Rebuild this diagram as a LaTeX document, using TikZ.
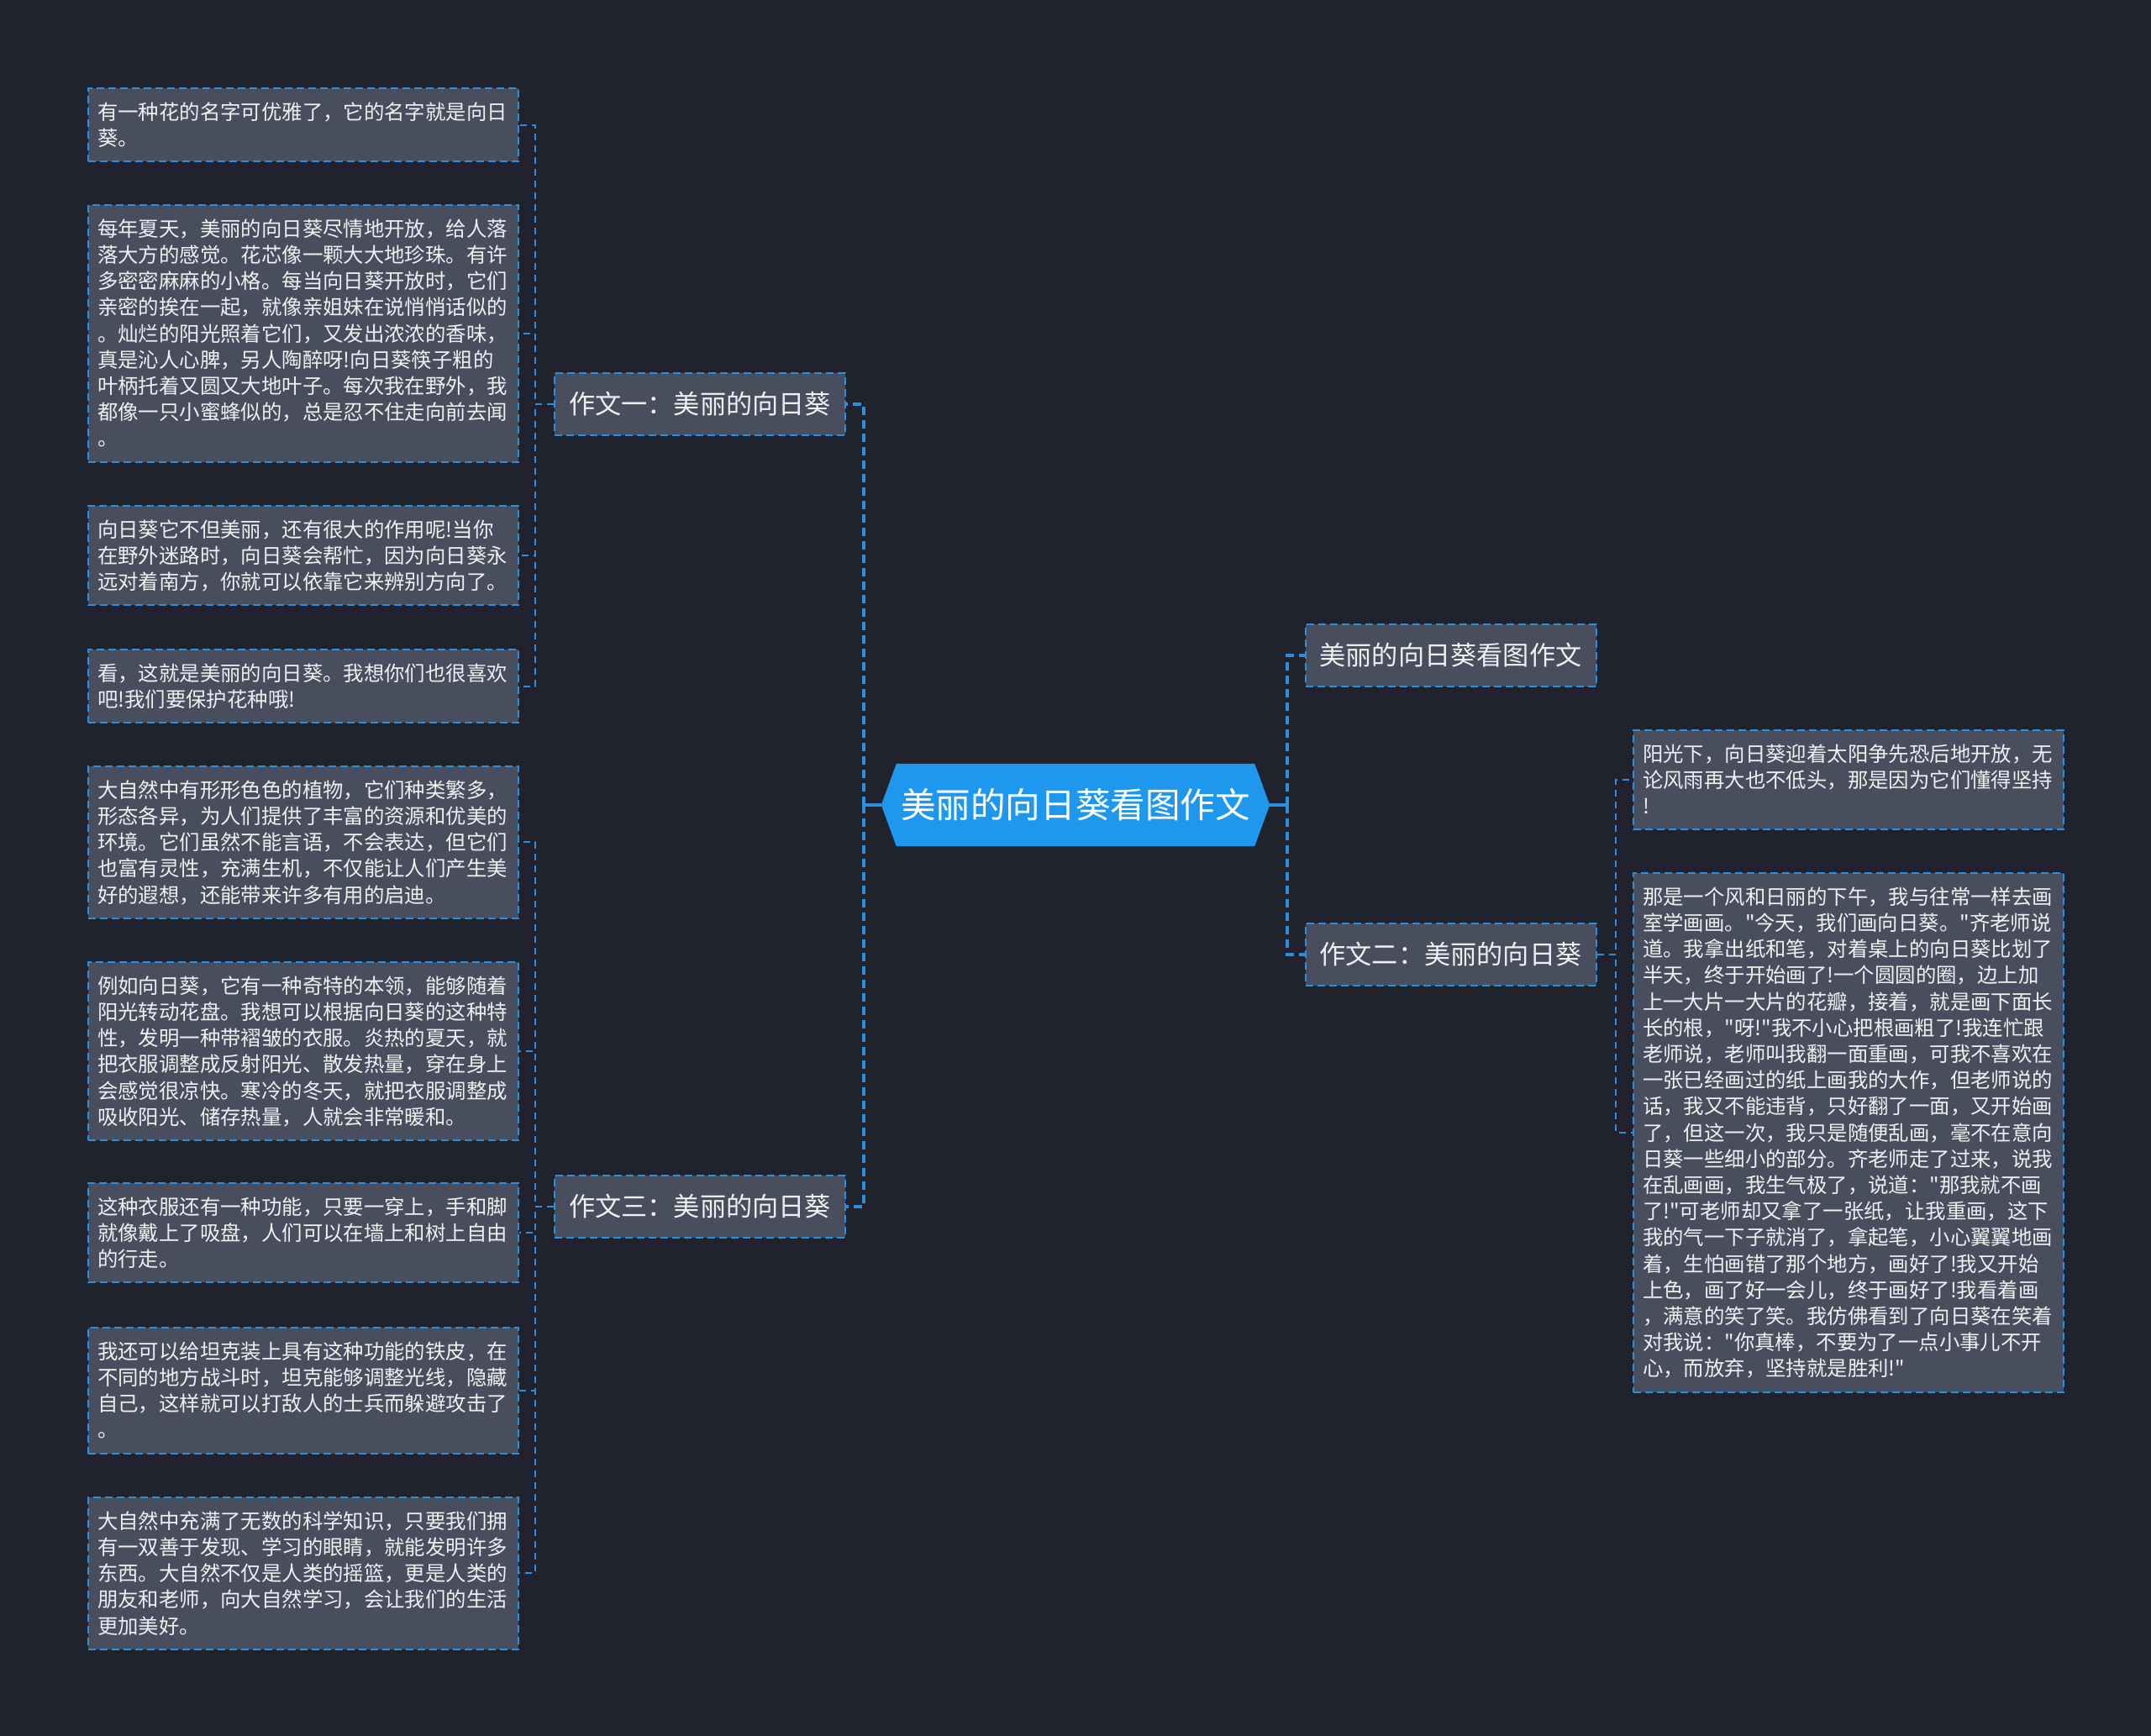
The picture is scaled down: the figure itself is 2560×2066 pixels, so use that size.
\documentclass[tikz,border=0pt]{standalone}
\usepackage{fontspec}
\newfontfamily\cjk{Noto Sans CJK SC}
\pgfdeclarelayer{back}
\pgfsetlayers{back,main}
\definecolor{bgc}{HTML}{20232D}
\definecolor{boxc}{HTML}{484E5E}
\definecolor{linec}{HTML}{2B8FE0}
\definecolor{centc}{HTML}{1D98EE}
\definecolor{txtc}{HTML}{F0F0F0}
\newcommand\lnstrut{\rule[-0.12em]{0pt}{1em}}
\newcommand\leaffont{\cjk\fontsize{24.4pt}{31.2pt}\selectfont}
\newcommand\midfont{\cjk\fontsize{31.2pt}{36pt}\selectfont}
\newcommand\centfont{\cjk\fontsize{41.6pt}{48pt}\selectfont}
\tikzset{
  leaf/.style={draw=linec, fill=boxc, line width=2pt, dash pattern=on 9pt off 5pt, text=txtc, font=\leaffont, text width=490pt, align=left, inner xsep=11pt, inner ysep=15.8pt, anchor=north west},
  topic/.style={draw=linec, fill=boxc, line width=2pt, dash pattern=on 9pt off 5pt, text=txtc, font=\midfont, minimum width=346pt, minimum height=74pt, inner sep=0pt},
  root/.style={text=white, font=\centfont, minimum width=426pt, minimum height=98pt, inner sep=0pt},
  trunk/.style={draw=linec, line width=3.5pt, dash pattern=on 10pt off 6pt},
  trunksolid/.style={draw=linec, line width=3.5pt},
  twig/.style={draw=linec, line width=2pt, dash pattern=on 8pt off 6pt},
}
\begin{document}
\begin{tikzpicture}[x=1pt,y=-1pt]
\begin{pgfonlayer}{back}
\fill[bgc] (0,0) rectangle (2560,2066);
\end{pgfonlayer}
\useasboundingbox (0,0) rectangle (2560,2066);

% root
\node[root] (c) at (1280,958) {\lnstrut 美丽的向日葵看图作文};
\begin{pgfonlayer}{back}
\fill[centc] (c.north west) -- (c.north east) -- ([xshift=18pt]c.east) -- (c.south east) -- (c.south west) -- ([xshift=-18pt]c.west) -- cycle;
\end{pgfonlayer}

% topics
\node[topic] (w1) at (833,481) {\lnstrut 作文一：美丽的向日葵};
\node[topic] (w3) at (833,1436) {\lnstrut 作文三：美丽的向日葵};
\node[topic] (r1) at (1726.5,780) {\lnstrut 美丽的向日葵看图作文};
\node[topic] (w2) at (1726.5,1136) {\lnstrut 作文二：美丽的向日葵};

% left leaves (essay 1)
\node[leaf] (L1) at (104,104) {\lnstrut 有一种花的名字可优雅了，它的名字就是向日\\\lnstrut 葵。};
\node[leaf] (L2) at (104,243) {\lnstrut 每年夏天，美丽的向日葵尽情地开放，给人落\\\lnstrut 落大方的感觉。花芯像一颗大大地珍珠。有许\\\lnstrut 多密密麻麻的小格。每当向日葵开放时，它们\\\lnstrut 亲密的挨在一起，就像亲姐妹在说悄悄话似的\\\lnstrut 。灿烂的阳光照着它们，又发出浓浓的香味，\\\lnstrut 真是沁人心脾，另人陶醉呀!向日葵筷子粗的\\\lnstrut 叶柄托着又圆又大地叶子。每次我在野外，我\\\lnstrut 都像一只小蜜蜂似的，总是忍不住走向前去闻\\\lnstrut 。};
\node[leaf] (L3) at (104,601) {\lnstrut 向日葵它不但美丽，还有很大的作用呢!当你\\\lnstrut 在野外迷路时，向日葵会帮忙，因为向日葵永\\\lnstrut 远对着南方，你就可以依靠它来辨别方向了。};
\node[leaf] (L4) at (104,772) {\lnstrut 看，这就是美丽的向日葵。我想你们也很喜欢\\\lnstrut 吧!我们要保护花种哦!};

% left leaves (essay 3)
\node[leaf] (L5) at (104,911) {\lnstrut 大自然中有形形色色的植物，它们种类繁多，\\\lnstrut 形态各异，为人们提供了丰富的资源和优美的\\\lnstrut 环境。它们虽然不能言语，不会表达，但它们\\\lnstrut 也富有灵性，充满生机，不仅能让人们产生美\\\lnstrut 好的遐想，还能带来许多有用的启迪。};
\node[leaf] (L6) at (104,1144) {\lnstrut 例如向日葵，它有一种奇特的本领，能够随着\\\lnstrut 阳光转动花盘。我想可以根据向日葵的这种特\\\lnstrut 性，发明一种带褶皱的衣服。炎热的夏天，就\\\lnstrut 把衣服调整成反射阳光、散发热量，穿在身上\\\lnstrut 会感觉很凉快。寒冷的冬天，就把衣服调整成\\\lnstrut 吸收阳光、储存热量，人就会非常暖和。};
\node[leaf] (L7) at (104,1407) {\lnstrut 这种衣服还有一种功能，只要一穿上，手和脚\\\lnstrut 就像戴上了吸盘，人们可以在墙上和树上自由\\\lnstrut 的行走。};
\node[leaf] (L8) at (104,1579) {\lnstrut 我还可以给坦克装上具有这种功能的铁皮，在\\\lnstrut 不同的地方战斗时，坦克能够调整光线，隐藏\\\lnstrut 自己，这样就可以打敌人的士兵而躲避攻击了\\\lnstrut 。};
\node[leaf] (L9) at (104,1781) {\lnstrut 大自然中充满了无数的科学知识，只要我们拥\\\lnstrut 有一双善于发现、学习的眼睛，就能发明许多\\\lnstrut 东西。大自然不仅是人类的摇篮，更是人类的\\\lnstrut 朋友和老师，向大自然学习，会让我们的生活\\\lnstrut 更加美好。};

% right leaves (essay 2)
\node[leaf] (R1) at (1943,868) {\lnstrut 阳光下，向日葵迎着太阳争先恐后地开放，无\\\lnstrut 论风雨再大也不低头，那是因为它们懂得坚持\\\lnstrut !};
\node[leaf] (R2) at (1943,1038) {\lnstrut 那是一个风和日丽的下午，我与往常一样去画\\\lnstrut 室学画画。"今天，我们画向日葵。"齐老师说\\\lnstrut 道。我拿出纸和笔，对着桌上的向日葵比划了\\\lnstrut 半天，终于开始画了!一个圆圆的圈，边上加\\\lnstrut 上一大片一大片的花瓣，接着，就是画下面长\\\lnstrut 长的根，"呀!"我不小心把根画粗了!我连忙跟\\\lnstrut 老师说，老师叫我翻一面重画，可我不喜欢在\\\lnstrut 一张已经画过的纸上画我的大作，但老师说的\\\lnstrut 话，我又不能违背，只好翻了一面，又开始画\\\lnstrut 了，但这一次，我只是随便乱画，毫不在意向\\\lnstrut 日葵一些细小的部分。齐老师走了过来，说我\\\lnstrut 在乱画画，我生气极了，说道："那我就不画\\\lnstrut 了!"可老师却又拿了一张纸，让我重画，这下\\\lnstrut 我的气一下子就消了，拿起笔，小心翼翼地画\\\lnstrut 着，生怕画错了那个地方，画好了!我又开始\\\lnstrut 上色，画了好一会儿，终于画好了!我看着画\\\lnstrut ，满意的笑了笑。我仿佛看到了向日葵在笑着\\\lnstrut 对我说："你真棒，不要为了一点小事儿不开\\\lnstrut 心，而放弃，坚持就是胜利!"};

% root connectors
\draw[trunksolid] ([xshift=-18pt]c.west) -- ++(-21,0) coordinate (cl);
\draw[trunk] (cl) |- (w1.east);
\draw[trunk] (cl) |- (w3.east);
\draw[trunksolid] ([xshift=18pt]c.east) -- ++(21,0) coordinate (cr);
\draw[trunk] (cr) |- (r1.west);
\draw[trunk] (cr) |- (w2.west);

% essay 1 connectors
\foreach \t in {L1,L2,L3,L4}{\draw[twig] (w1.west) -- ++(-22,0) |- (\t.east);}
% essay 3 connectors
\foreach \t in {L5,L6,L7,L8,L9}{\draw[twig] (w3.west) -- ++(-22,0) |- (\t.east);}
% essay 2 connectors
\foreach \t in {R1,R2}{\draw[twig] (w2.east) -- ++(22,0) |- (\t.west);}
\end{tikzpicture}
\end{document}
